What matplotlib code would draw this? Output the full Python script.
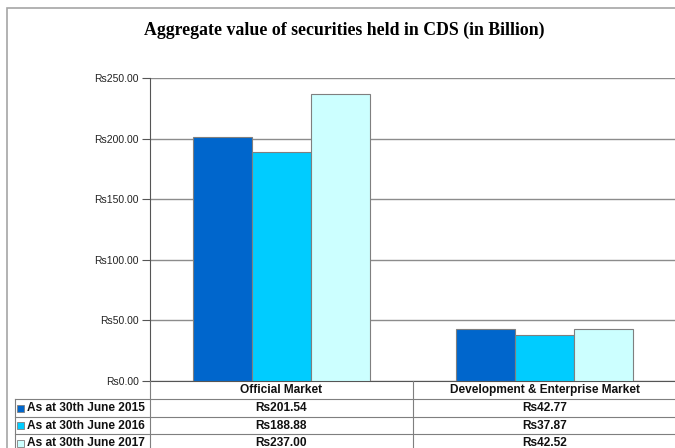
import numpy as np
import matplotlib.pyplot as plt
from matplotlib.lines import Line2D
from matplotlib.patches import Rectangle

# values in Rs billion
markets = ['Official Market', 'Development & Enterprise Market']
periods = ['As at 30th June 2015', 'As at 30th June 2016', 'As at 30th June 2017']
vals_2015 = [201.54, 42.77]
vals_2016 = [188.88, 37.87]
vals_2017 = [237.00, 42.52]
series = [vals_2015, vals_2016, vals_2017]
colors = ['#0066CC', '#00CCFF', '#CCFFFF']

W, H = 675, 448
fig = plt.figure(figsize=(W / 100, H / 100), dpi=100)

def fx(px):
    return px / W

def fy(py):
    return 1 - py / H

ax_l, ax_r, ax_t, ax_b = 150, 676, 78, 381
ax = fig.add_axes([fx(ax_l), fy(ax_b), fx(ax_r - ax_l), fy(ax_t) - fy(ax_b)])

x = np.arange(len(markets))
bw = 0.225
for i, (vals, c) in enumerate(zip(series, colors)):
    ax.bar(x + (i - 1) * bw, vals, bw, color=c, edgecolor='#7f7f7f',
           linewidth=0.8, zorder=3)

ax.set_xlim(-0.5, 1.5)
ax.set_ylim(0, 250)
ax.set_yticks(np.arange(0, 251, 50))
ax.set_yticklabels([f'Rs{v:.2f}' for v in np.arange(0, 251, 50)],
                   fontsize=7.5, color='#222222', family='Liberation Sans')
ax.set_xticks([])
ax.yaxis.grid(True, color='#8c8c8c', linewidth=1, zorder=0)
ax.tick_params(axis='y', length=6, width=0.8, color='#555555', pad=2)
for s in ['top', 'right']:
    ax.spines[s].set_visible(False)
ax.spines['left'].set_color('#555555')
ax.spines['bottom'].set_color('#555555')

# outer chart frame
fig.add_artist(Rectangle((fx(7), fy(460)), fx(700), fy(8) - fy(460),
                         transform=fig.transFigure, fill=False,
                         edgecolor='#a6a6a6', linewidth=1.2))

fig.text(fx(344), fy(30), 'Aggregate value of securities held in CDS (in Billion)',
         ha='center', va='center', fontsize=12.8, fontweight='bold',
         family='Liberation Serif')

# data table under the axis
tab_l, col_div = 15, 413
rows_y = [381, 399, 417, 434, 452]
line_kw = dict(transform=fig.transFigure, color='#7f7f7f', linewidth=0.8)
for y in rows_y[1:]:
    fig.add_artist(Line2D([fx(tab_l), fx(ax_r)], [fy(y), fy(y)], **line_kw))
fig.add_artist(Line2D([fx(tab_l), fx(tab_l)], [fy(rows_y[1]), fy(460)], **line_kw))
fig.add_artist(Line2D([fx(ax_l), fx(ax_l)], [fy(ax_b), fy(460)], **line_kw))
fig.add_artist(Line2D([fx(col_div), fx(col_div)], [fy(ax_b), fy(460)], **line_kw))

tkw = dict(ha='center', va='center', fontsize=8.6, fontweight='bold',
           family='Liberation Sans', color='#111111')
col_cx = [(ax_l + col_div) / 2, (col_div + ax_r) / 2]
for cx, m in zip(col_cx, markets):
    fig.text(fx(cx), fy((rows_y[0] + rows_y[1]) / 2), m, **tkw)

for r, (lab, vals, c) in enumerate(zip(periods, series, colors)):
    yc = (rows_y[r + 1] + rows_y[r + 2]) / 2
    fig.add_artist(Rectangle((fx(17), fy(yc + 3.5)), fx(7), fy(yc - 3.5) - fy(yc + 3.5),
                             transform=fig.transFigure, facecolor=c,
                             edgecolor='#7f7f7f', linewidth=0.6))
    fig.text(fx(27), fy(yc), lab, ha='left', va='center', fontsize=8.6,
             fontweight='bold', family='Liberation Sans', color='#111111')
    for cx, v in zip(col_cx, vals):
        fig.text(fx(cx), fy(yc), f'Rs{v:.2f}', **tkw)

fig.savefig('out.png', dpi=100)
